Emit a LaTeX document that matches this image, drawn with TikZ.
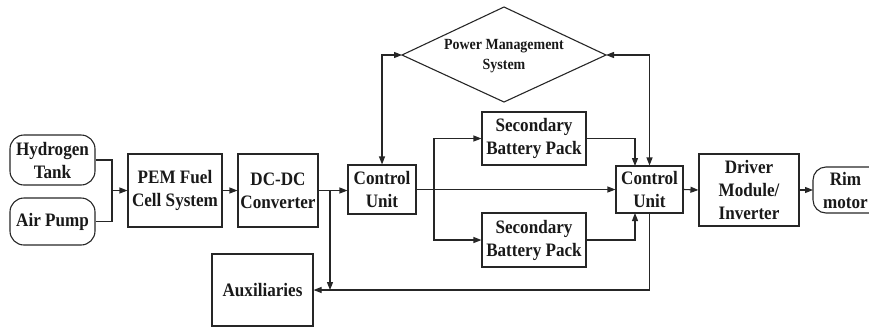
\documentclass[tikz,border=0pt]{standalone}
\usepackage{fontspec}
\setmainfont{Liberation Serif}[FakeStretch=0.9]
\usetikzlibrary{arrows.meta}
\begin{document}
\begin{tikzpicture}[x=1pt,y=-1pt,
  ln/.style={line width=1.1pt,draw=black!85},
  tip/.style={ln,-{Triangle[length=8pt,width=6pt]}},
  dtip/.style={ln,{Triangle[length=8pt,width=6pt]}-{Triangle[length=8pt,width=6pt]}},
  blk/.style={draw=black!85,line width=1.1pt,rectangle,align=center,inner sep=0pt,
    font=\fontsize{19}{23}\selectfont\bfseries,text=black!90},
  pill/.style={blk,rounded corners=14pt},
  lbl/.style={align=center,inner sep=0pt,font=\fontsize{19}{23}\selectfont\bfseries,text=black!90},
  pmslbl/.style={align=center,inner sep=0pt,font=\fontsize{15.5}{20}\selectfont\bfseries,text=black!90}]
\useasboundingbox (0,0) rectangle (869,327);

% nodes
\node[pill,minimum width=85pt,minimum height=50pt] (H) at (52.5,160) {Hydrogen\\Tank};
\node[pill,minimum width=85pt,minimum height=47pt] (A) at (52.5,221.5) {Air Pump};
\node[blk,minimum width=94pt,minimum height=73pt] (PEM) at (175,190.5) {PEM Fuel\\Cell System};
\node[blk,minimum width=80pt,minimum height=73pt] (DC) at (278,190.5) {DC-DC\\Converter};
\node[blk,minimum width=68pt,minimum height=49pt] (CU1) at (382,189.5) {Control\\Unit};
\node[blk,minimum width=101pt,minimum height=72pt] (AUX) at (262.5,290) {Auxiliaries};
\node[blk,minimum width=104pt,minimum height=53pt] (SB1) at (534,138.5) {Secondary\\Battery Pack};
\node[blk,minimum width=104pt,minimum height=54pt] (SB2) at (534,240) {Secondary\\Battery Pack};
\node[blk,minimum width=67pt,minimum height=47pt] (CU2) at (649.5,189.5) {Control\\Unit};
\node[blk,minimum width=100pt,minimum height=72pt] (DRV) at (749,190) {Driver\\Module/\\Inverter};

% Power management diamond
\coordinate (pmsT) at (504,7);
\coordinate (pmsR) at (606,55);
\coordinate (pmsB) at (504,102);
\coordinate (pmsL) at (402,55);
\draw[ln] (pmsT) -- (pmsR) -- (pmsB) -- (pmsL) -- cycle;
\node[pmslbl] (PMS) at (504,56) {Power Management\\System};

% Rim motor (cut at the right edge)
\coordinate (rimW) at (813,190);
\draw[ln,rounded corners=13pt] (869,167) -- (813,167) -- (813,213) -- (869,213);
\node[lbl] (RIM) at (845.5,190) {Rim\\motor};

% junction coordinates
\coordinate (j1) at (112,190.5);
\coordinate (b1) at (330,190.5);
\coordinate (b2) at (434,189.5);
\coordinate (c2a) at (635,166);
\coordinate (c2b) at (635,213);

% connectors
\draw[ln] (H.east) -| (j1);
\draw[ln] (A.east) -| (j1);
\draw[tip] (j1) -- (PEM.west);
\draw[tip] (PEM) -- (DC);
\draw[tip] (DC.east) -- (DC.east -| CU1.west);
\draw[tip] (b1) -- (b1 |- AUX.east);
\draw[tip] (CU2.south) |- (AUX.east);
\draw[tip] (CU1.east) -- (CU2.west);
\draw[tip] (b2) |- (SB1.west);
\draw[tip] (b2) |- (SB2.west);
\draw[tip] (SB1.east) -| (c2a);
\draw[tip] (SB2.east) -| (c2b);
\draw[dtip] (pmsL) -| (CU1.north);
\draw[dtip] (pmsR) -| (CU2.north);
\draw[tip] (CU2.east) -- (DRV.west);
\draw[tip] (DRV.east) -- (rimW);
\end{tikzpicture}
\end{document}
